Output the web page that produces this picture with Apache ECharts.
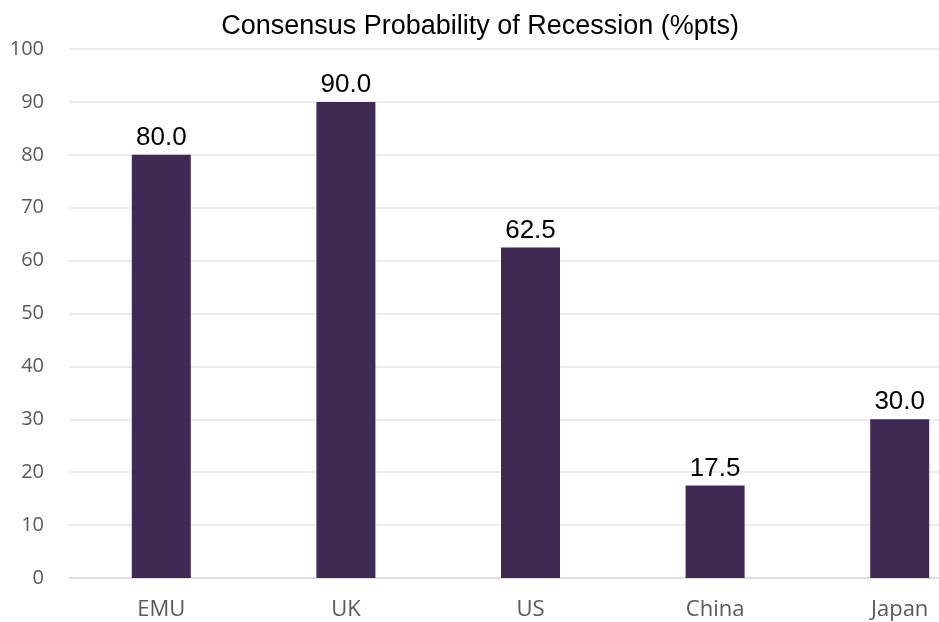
<!DOCTYPE html>
<html>
<head>
<meta charset="utf-8">
<script src="https://cdn.jsdelivr.net/npm/echarts@6/dist/echarts.min.js"></script>
<style>html,body{margin:0;padding:0;background:#fff;overflow:hidden;width:939px;height:622px;}#c{width:992px;height:622px;}</style>
</head>
<body>
<div id="c"></div>
<script>
const categories = ['EMU', 'UK', 'US', 'China', 'Japan'];
const values = [80.0, 90.0, 62.5, 17.5, 30.0];
const yTicks = [0, 10, 20, 30, 40, 50, 60, 70, 80, 90, 100];
const titleText = 'Consensus Probability of Recession (%pts)';

const chart = echarts.init(document.getElementById('c'), null, {renderer: 'canvas'});
chart.setOption({
  backgroundColor: '#ffffff',
  animation: false,
  title: {
    text: titleText,
    left: 475, top: 8, textAlign: 'center',
    textStyle: {fontFamily: 'Liberation Sans, Arial', fontSize: 27, fontWeight: 'normal', color: '#000000'}
  },
  grid: {left: 69, top: 49, right: 0, height: 529, containLabel: false},
  xAxis: {
    type: 'category',
    data: categories,
    axisLine: {show: true, lineStyle: {color: '#d9d9d9', width: 1.5}},
    axisTick: {show: false},
    axisLabel: {fontFamily: 'Open Sans', fontSize: 22, color: '#595959', margin: 21}
  },
  yAxis: {
    type: 'value',
    min: yTicks[0], max: yTicks[yTicks.length - 1], interval: 10,
    axisLine: {show: false},
    axisTick: {show: false},
    splitLine: {lineStyle: {color: '#e6e6e6', width: 1.5}},
    axisLabel: {fontFamily: 'Open Sans', fontSize: 20, color: '#595959', margin: 25}
  },
  series: [{
    type: 'bar',
    data: values,
    barWidth: 59,
    itemStyle: {color: '#3f2a54'},
    label: {
      show: true, position: 'top', distance: 4,
      formatter: p => p.value.toFixed(1),
      fontFamily: 'Liberation Sans, Arial', fontSize: 26, color: '#000000'
    }
  }]
});
</script>
</body>
</html>
